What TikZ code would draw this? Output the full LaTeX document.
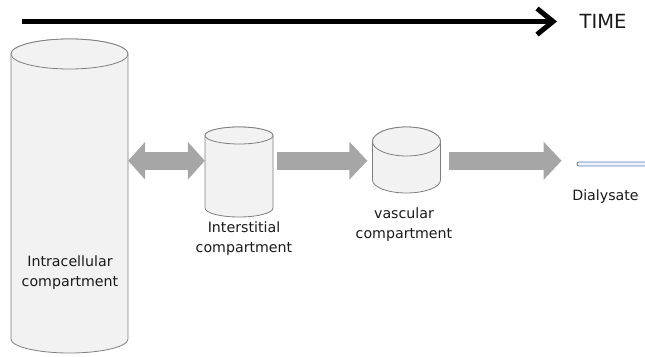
\documentclass[tikz,border=0pt]{standalone}
\usepackage{fontspec}
\setmainfont{DejaVu Sans}
\usetikzlibrary{arrows.meta,calc}
\definecolor{cylfill}{HTML}{F2F2F2}
\definecolor{cylline}{HTML}{7F7F7F}
\definecolor{flowgray}{HTML}{A6A6A6}
\definecolor{dialine}{HTML}{5A7DB5}
\definecolor{diafill}{HTML}{EEF2FA}
\definecolor{txt}{HTML}{1A1A1A}
\newcommand\mycyl[7]{% name, cx, rx, ytop, rytop, ybot, rybot
  \filldraw[cylstyle] (#2-#3,#4) -- (#2-#3,#6)
     arc[start angle=180,end angle=360,x radius=#3,y radius=#7]
     -- (#2+#3,#4) arc[start angle=0,end angle=180,x radius=#3,y radius=#5] -- cycle;
  \draw[cylstyle] (#2,#4) ellipse[x radius=#3,y radius=#5];
  \node[inner sep=0pt,minimum width=2*#3 pt,minimum height=#4pt-#6pt] (#1) at (#2,{(#4+#6)/2}) {};
}
\begin{document}
\begin{tikzpicture}[x=1pt,y=1pt,
  cylstyle/.style={fill=cylfill,draw=cylline,line width=0.8pt},
  flow/.style={draw=flowgray,line width=18pt,-{Triangle[length=18pt,width=37pt]}},
  flowboth/.style={draw=flowgray,line width=18pt,{Triangle[length=17pt,width=37pt]}-{Triangle[length=17pt,width=37pt]}},
  lbl/.style={align=center,font=\fontsize{14.2}{20}\selectfont,inner sep=0pt,text=txt},
  timeline/.style={line width=5pt,-{Straight Barb[length=16pt,width=26pt]}}]
\useasboundingbox (0,0) rectangle (645,356);
% cylinders
\mycyl{ic}{69.5}{58.5}{302}{15}{17}{14}
\mycyl{isc}{239}{34}{220.5}{8.5}{148}{9}
\mycyl{vc}{406.5}{34}{214.5}{14.5}{176}{13}
% dialysate
\node[draw=dialine,fill=diafill,line width=0.8pt,rounded corners=2pt,inner sep=0pt,
  minimum width=73pt,minimum height=4pt] (dia) at (613.5,192) {};
% flows
\draw[flowboth] (ic.east |- vc.west) -- (isc.west |- vc.west);
\draw[flow,shorten <=4pt,shorten >=5pt] (isc.east |- vc.west) -- (vc.west);
\draw[flow,shorten <=8pt,shorten >=15pt] (vc.east) -- (dia.west |- vc.east);
% labels
\node[lbl] (lic) at (70,83.5) {Intracellular\\compartment};
\node[lbl] (lisc) at (244,117.5) {Interstitial\\compartment};
\node[lbl] (lvc) at (404,131.5) {vascular\\compartment};
\node[lbl] (ldia) at (605.5,159) {Dialysate};
% time
\coordinate (ts) at (22,334.5);
\coordinate (te) at (557,334.5);
\draw[timeline] (ts) -- (te);
\node[inner sep=0pt,font=\fontsize{19.5}{22}\selectfont,text=txt] (time) at (603,334.5) {TIME};
\end{tikzpicture}
\end{document}
